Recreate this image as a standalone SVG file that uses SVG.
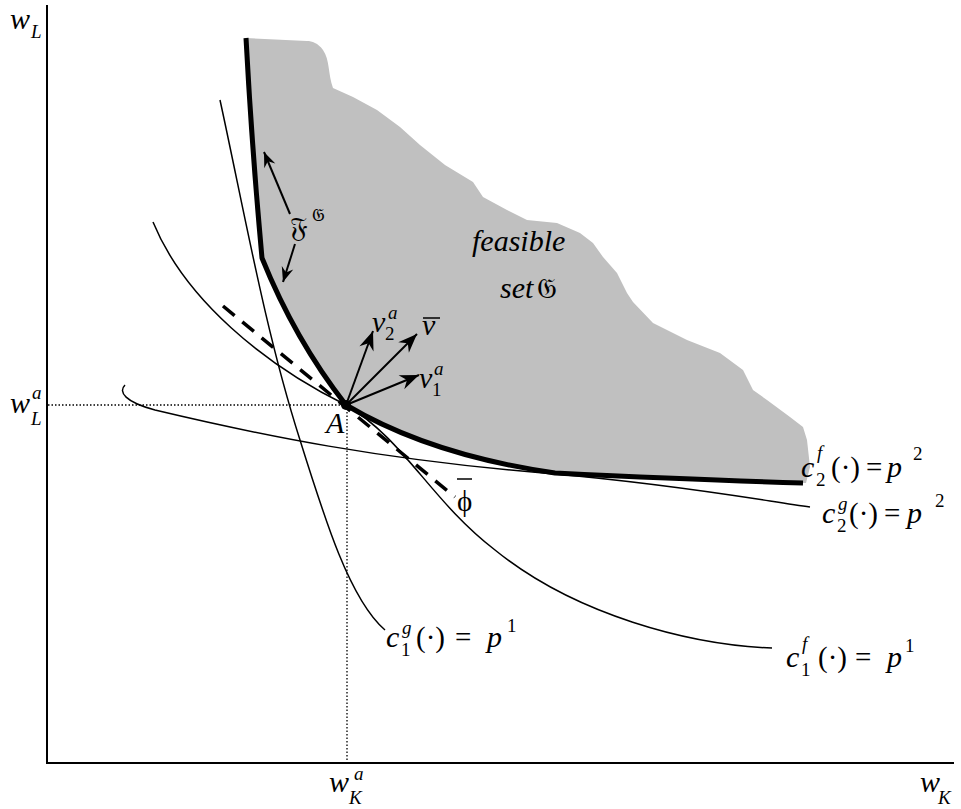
<svg xmlns="http://www.w3.org/2000/svg" width="961" height="809" viewBox="0 0 961 809">
<style>
text{font-family:'Liberation Serif','Times New Roman',serif;fill:#000}
.m{font-style:italic;font-size:30px}
.s{font-style:italic;font-size:19px}
.n{font-style:normal;font-size:19px}
.r{font-style:normal;font-size:29px}
.fr{font-style:normal;font-size:28px}
.thin{fill:none;stroke:#000;stroke-width:1.5}
.thick{fill:none;stroke:#000;stroke-width:5;stroke-linejoin:round}
.axis{fill:none;stroke:#000;stroke-width:2}
.dot{fill:none;stroke:#000;stroke-width:1.3;stroke-dasharray:1.5,2}
.vec{fill:none;stroke:#000;stroke-width:2}
</style>
<defs>
<marker id="ah" markerUnits="userSpaceOnUse" orient="auto" markerWidth="24" markerHeight="20" refX="0" refY="0" viewBox="-20 -10 24 20" overflow="visible">
<path d="M0,0 L-19,-7.5 L-13,0 L-19,7.5 Z" fill="#000"/>
</marker>
<marker id="ah2" markerUnits="userSpaceOnUse" orient="auto" markerWidth="20" markerHeight="16" refX="0" refY="0" viewBox="-16 -8 20 16" overflow="visible">
<path d="M0,0 L-15,-6 L-10,0 L-15,6 Z" fill="#000"/>
</marker>
</defs>

<g id="feasible-set">
<path fill="#c0c0c0" d="M246,38 Q252,150 262,258 Q295,340 346,405 Q430,455 555,473 Q700,480 806,483 L810,467 L807,440 L803,427 L790,417 L767,400 L753,390 L743,370 L720,353 L687,340 L653,323 L633,302 L627,293 L617,273 L603,257 L593,243 L580,233 L557,223 L527,220 L507,210 L483,197 L473,182 L445,165 L420,145 L400,127 L377,110 L353,97 L333,88 C328,75 330,60 323,50 C318,43 312,41 307,41 Z"/>
</g>

<g id="connectors">
<line class="axis" x1="47" y1="5" x2="47" y2="763"/>
<line class="axis" x1="46" y1="763" x2="954" y2="763"/>
<line class="dot" x1="48" y1="405" x2="346" y2="405"/>
<line class="dot" x1="347" y1="405" x2="347" y2="762"/>
<path id="c1g" class="thin" d="M220,100 C245,215 265,330 300,440 C325,520 350,600 385,630"/>
<path id="c1f" class="thin" d="M153,222 C185,300 265,365 346,405 C405,440 430,500 495,550 C575,615 690,645 772,648"/>
<path id="c2g" class="thin" d="M125,385 C118,392 125,402 155,410 C260,435 380,460 555,474 C680,485 760,500 810,507"/>
<line x1="223" y1="306" x2="455" y2="497" stroke="#000" stroke-width="3.5" stroke-dasharray="15,10"/>
<path id="frontier" class="thick" d="M246,38 Q252,150 262,258 Q295,340 346,405 Q430,455 555,473 Q700,480 803,483"/>
<line class="vec" x1="346" y1="405" x2="373" y2="331" marker-end="url(#ah)"/>
<line class="vec" x1="346" y1="405" x2="417" y2="334" marker-end="url(#ah)"/>
<line class="vec" x1="346" y1="405" x2="419" y2="375" marker-end="url(#ah)"/>
<line class="vec" x1="290" y1="214" x2="264" y2="152" marker-end="url(#ah2)"/>
<line class="vec" x1="295" y1="244" x2="283" y2="282" marker-end="url(#ah2)"/>
</g>

<g id="point-A">
<circle cx="346" cy="405" r="5" fill="#000"/>
<text class="m" x="326" y="433">A</text>
</g>

<g id="axis-labels">
<text class="m" x="10" y="29">w<tspan class="s" x="31" y="38">L</tspan></text>
<text class="m" x="10" y="413">w<tspan class="s" x="32" y="399">a</tspan><tspan class="s" x="31" y="425">L</tspan></text>
<text class="m" x="329" y="792">w<tspan class="s" x="354" y="780">a</tspan><tspan class="s" x="349" y="804">K</tspan></text>
<text class="m" x="920" y="792">w<tspan class="s" x="938" y="804">K</tspan></text>
</g>

<g id="label-feasible">
<text class="m" x="472" y="251">feasible</text>
<text class="m" x="500" y="298">set<tspan class="fr" x="537">𝔊</tspan></text>
</g>

<g id="label-FG">
<text class="fr" x="290" y="237">𝔉<tspan x="312" y="221" font-size="18">𝔊</tspan></text>
</g>

<g id="vector-labels">
<text class="m" x="372" y="332" font-size="26">v<tspan class="n" x="385" y="340">2</tspan><tspan class="s" x="388" y="319">a</tspan></text>
<text class="m" x="422" y="335" font-size="26">v</text><line x1="423" y1="318" x2="440" y2="318" stroke="#000" stroke-width="1.5"/>
<text class="m" x="419" y="388" font-size="26">v<tspan class="n" x="432" y="396">1</tspan><tspan class="s" x="434" y="375">a</tspan></text>
</g>

<g id="label-phi">
<line x1="457" y1="479" x2="472" y2="479" stroke="#000" stroke-width="1.5"/>
<text class="r" x="457" y="511" font-size="28">ϕ</text>
</g>

<g id="label-c2f">
<text class="m" x="801" y="477">c<tspan class="s" x="817" y="459">f</tspan><tspan class="n" x="816" y="486">2</tspan><tspan class="r" x="831" y="477">(·)</tspan><tspan class="r" x="866">=</tspan><tspan x="887">p</tspan><tspan class="n" x="913" y="460">2</tspan></text>
</g>
<g id="label-c2g">
<text class="m" x="822" y="523">c<tspan class="s" x="838" y="510">g</tspan><tspan class="n" x="837" y="532">2</tspan><tspan class="r" x="849" y="523">(·)</tspan><tspan class="r" x="884">=</tspan><tspan x="907">p</tspan><tspan class="n" x="935" y="507">2</tspan></text>
</g>
<g id="label-c1g">
<text class="m" x="386" y="647">c<tspan class="s" x="402" y="634">g</tspan><tspan class="n" x="401" y="656">1</tspan><tspan class="r" x="416" y="647">(·)</tspan><tspan class="r" x="455">=</tspan><tspan x="487">p</tspan><tspan class="n" x="507" y="632">1</tspan></text>
</g>
<g id="label-c1f">
<text class="m" x="786" y="667">c<tspan class="s" x="802" y="650">f</tspan><tspan class="n" x="801" y="676">1</tspan><tspan class="r" x="818" y="667">(·)</tspan><tspan class="r" x="855">=</tspan><tspan x="887">p</tspan><tspan class="n" x="905" y="652">1</tspan></text>
</g>
</svg>
